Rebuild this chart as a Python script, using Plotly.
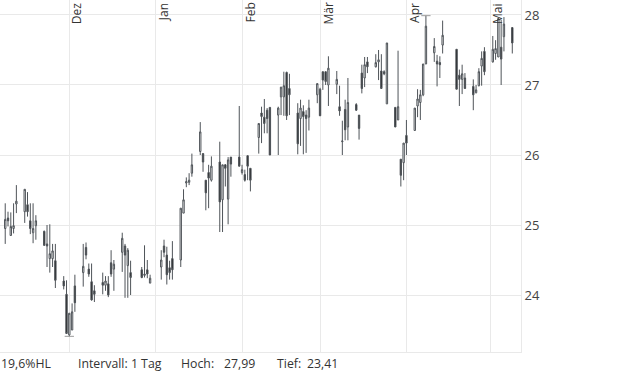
import pandas as pd
import plotly.graph_objects as go

# ---- data ----
dates = [
    "2021-11-08", "2021-11-09", "2021-11-10", "2021-11-11", "2021-11-12",
    "2021-11-15", "2021-11-16", "2021-11-17", "2021-11-18", "2021-11-19",
    "2021-11-22", "2021-11-23", "2021-11-24", "2021-11-25", "2021-11-26",
    "2021-11-29", "2021-11-30", "2021-12-01", "2021-12-02", "2021-12-03",
    "2021-12-06", "2021-12-07", "2021-12-08", "2021-12-09", "2021-12-10",
    "2021-12-13", "2021-12-14", "2021-12-15", "2021-12-16", "2021-12-17",
    "2021-12-20", "2021-12-21", "2021-12-22", "2021-12-23",
    "2021-12-27", "2021-12-28", "2021-12-29", "2021-12-30",
    "2022-01-03", "2022-01-04", "2022-01-05", "2022-01-06", "2022-01-07",
    "2022-01-10", "2022-01-11", "2022-01-12", "2022-01-13", "2022-01-14",
    "2022-01-17", "2022-01-18", "2022-01-19", "2022-01-20", "2022-01-21",
    "2022-01-24", "2022-01-25", "2022-01-26", "2022-01-27", "2022-01-28",
    "2022-01-31", "2022-02-01", "2022-02-02", "2022-02-03", "2022-02-04",
    "2022-02-07", "2022-02-08", "2022-02-09", "2022-02-10", "2022-02-11",
    "2022-02-14", "2022-02-15", "2022-02-16", "2022-02-17", "2022-02-18",
    "2022-02-21", "2022-02-22", "2022-02-23", "2022-02-24", "2022-02-25",
    "2022-02-28", "2022-03-01", "2022-03-02", "2022-03-03", "2022-03-04",
    "2022-03-07", "2022-03-08", "2022-03-09", "2022-03-10", "2022-03-11",
    "2022-03-14", "2022-03-15", "2022-03-16", "2022-03-17", "2022-03-18",
    "2022-03-21", "2022-03-22", "2022-03-23", "2022-03-24", "2022-03-25",
    "2022-03-28", "2022-03-29", "2022-03-30", "2022-03-31", "2022-04-01",
    "2022-04-04", "2022-04-05", "2022-04-06", "2022-04-07", "2022-04-08",
    "2022-04-11", "2022-04-12", "2022-04-13", "2022-04-14",
    "2022-04-19", "2022-04-20", "2022-04-21", "2022-04-22",
    "2022-04-25", "2022-04-26", "2022-04-27", "2022-04-28", "2022-04-29",
    "2022-05-02", "2022-05-03", "2022-05-04", "2022-05-05", "2022-05-06",
    "2022-05-09",
]

open_ = [
    24.95, 25.10, 24.85, 24.95, 25.30, 25.19, 25.29, 25.06, 24.89, 24.99,
    24.91, 24.73, 24.52, 24.52, 24.49, 24.20, 24.01, 23.43, 23.50, 24.13,
    24.32, 24.68, 24.37, 24.19, 24.06, 24.18, 24.14, 24.16, 24.46, 24.37,
    24.61, 24.70, 24.42, 24.32, 24.36, 24.28, 24.36, 24.17,
    24.40, 24.70, 24.57, 24.39, 24.52, 24.50, 25.17, 25.60, 25.61, 25.74,
    26.05, 26.02, 25.64, 25.75, 25.64, 25.90, 25.36, 25.86, 25.37, 25.97,
    25.97, 25.75, 25.72, 25.99, 25.81, 26.25, 26.60, 26.54, 26.64, 26.68,
    26.57, 26.83, 26.83, 27.18, 26.95, 26.60, 26.52, 26.62, 26.57, 26.54,
    26.86, 26.94, 27.19, 27.19, 27.00, 27.01, 26.69, 26.19, 26.65, 26.40,
    26.72, 26.57, 27.17, 27.10, 27.33, 27.26, 27.33, 27.20, 27.19, 26.73,
    26.68, 26.50, 25.94, 25.89, 26.28, 26.35, 26.70, 26.75, 26.86, 27.30,
    27.46, 27.34, 27.32, 27.57, 27.51, 27.14, 27.08, 27.10,
    26.98, 26.89, 26.99, 27.27, 27.48, 27.33, 27.45, 27.40, 27.54, 27.69,
    27.82,
]
high = [
    25.31, 25.19, 25.18, 25.31, 25.57, 25.51, 25.47, 25.31, 25.31, 25.14,
    24.92, 25.00, 25.01, 24.73, 24.73, 24.27, 24.21, 23.74, 23.88, 24.29,
    24.73, 24.75, 24.45, 24.45, 24.14, 24.32, 24.27, 24.27, 24.64, 24.50,
    24.89, 24.73, 24.67, 24.49, 24.40, 24.71, 24.50, 24.29,
    24.64, 24.79, 24.69, 24.49, 24.77, 25.24, 25.51, 25.68, 25.74, 26.02,
    26.47, 26.02, 25.64, 25.86, 25.98, 26.19, 25.86, 25.87, 25.97, 25.97,
    26.70, 25.86, 25.79, 25.99, 25.81, 26.45, 26.69, 26.80, 26.67, 26.68,
    26.69, 26.97, 27.19, 27.19, 27.16, 26.74, 26.79, 26.71, 26.64, 26.79,
    27.02, 26.96, 27.19, 27.19, 27.41, 27.20, 26.99, 26.49, 26.79, 27.10,
    26.74, 26.57, 27.29, 27.40, 27.40, 27.44, 27.50, 27.44, 27.21, 27.60,
    26.68, 27.49, 25.94, 26.17, 26.50, 26.67, 26.94, 26.93, 27.30, 27.99,
    27.67, 27.43, 27.41, 27.92, 27.51, 27.22, 27.29, 27.17,
    27.08, 27.00, 27.24, 27.48, 27.54, 27.70, 27.64, 27.96, 27.93, 27.97,
    27.82,
]
low = [
    24.73, 24.98, 24.85, 24.88, 25.17, 25.03, 25.12, 24.87, 24.74, 24.79,
    24.70, 24.40, 24.32, 24.40, 24.10, 24.08, 23.45, 23.41, 23.50, 23.76,
    24.12, 24.51, 24.26, 23.92, 23.90, 24.01, 24.06, 23.97, 24.26, 24.06,
    24.33, 23.96, 23.96, 24.00, 24.24, 24.25, 24.24, 24.17,
    24.22, 24.54, 24.15, 24.22, 24.22, 24.40, 25.17, 25.54, 25.57, 25.69,
    26.00, 25.76, 25.21, 25.24, 25.62, 24.90, 24.90, 25.55, 25.01, 25.69,
    25.84, 25.72, 25.62, 25.64, 25.48, 26.02, 26.17, 26.31, 26.31, 26.00,
    26.00, 26.57, 26.56, 26.50, 26.57, 26.01, 26.13, 26.01, 26.03, 26.35,
    26.74, 26.56, 26.93, 27.00, 26.70, 26.87, 26.56, 26.00, 26.21, 26.21,
    26.63, 26.22, 26.88, 26.97, 27.17, 27.25, 27.07, 26.95, 27.14, 26.73,
    26.40, 26.50, 25.55, 25.64, 26.00, 26.35, 26.54, 26.50, 26.84, 27.30,
    27.33, 26.98, 27.10, 27.45, 26.94, 26.70, 26.87, 26.95,
    26.64, 26.88, 26.98, 26.99, 27.14, 27.32, 27.36, 27.40, 27.00, 27.48,
    27.45,
]
close = [
    25.08, 25.06, 24.98, 24.99, 25.34, 25.51, 25.19, 24.95, 24.95, 25.06,
    24.71, 24.70, 24.59, 24.63, 24.21, 24.13, 23.45, 23.74, 23.76, 23.89,
    24.41, 24.57, 24.30, 23.93, 24.01, 24.14, 24.20, 24.00, 24.30, 24.44,
    24.81, 24.57, 24.64, 24.25, 24.25, 24.30, 24.30, 24.24,
    24.50, 24.61, 24.29, 24.32, 24.36, 25.24, 25.36, 25.62, 25.64, 25.86,
    26.33, 25.90, 25.46, 25.67, 25.84, 25.33, 25.86, 25.81, 25.93, 25.87,
    25.84, 25.79, 25.64, 25.84, 25.64, 26.45, 26.55, 26.45, 26.52, 26.00,
    26.67, 26.97, 26.99, 26.56, 26.86, 26.16, 26.67, 26.55, 26.52, 26.67,
    27.02, 26.56, 27.07, 27.05, 27.24, 27.08, 26.63, 26.20, 26.36, 26.75,
    26.64, 26.38, 26.95, 27.29, 27.26, 27.32, 27.36, 26.95, 27.16, 27.60,
    26.40, 26.69, 25.71, 26.17, 26.17, 26.67, 26.80, 26.86, 27.30, 27.84,
    27.55, 27.30, 27.29, 27.71, 26.94, 27.08, 27.16, 26.95,
    26.86, 26.93, 27.19, 27.38, 27.19, 27.51, 27.52, 27.95, 27.37, 27.87,
    27.60,
]

month_starts = ["2021-12-01", "2022-01-01", "2022-02-01", "2022-03-01", "2022-04-01", "2022-05-01"]
month_labels = ["Dez", "Jan", "Feb", "Mär", "Apr", "Mai"]
y_ticks = [24, 25, 26, 27, 28]
x_range = ["2021-11-06 03:00", "2022-05-12 03:00"]
y_range = [23.186, 28.214]
interval_label = "Intervall: 1 Tag"

# ---- figure ----
LINE = "#4f5459"
GRID = "#e9e9e9"
TEXT = "#333333"
FONT = "Open Sans"
PLOT_W = 521

fig = go.Figure()
fig.add_trace(go.Candlestick(
    x=pd.to_datetime(dates), open=open_, high=high, low=low, close=close,
    increasing=dict(line=dict(color=LINE, width=1), fillcolor="#ffffff"),
    decreasing=dict(line=dict(color=LINE, width=1), fillcolor="#1e1e1e"),
    whiskerwidth=0, showlegend=False, hoverinfo="skip",
))

# high / low marker lines
hi = max(high)
lo = min(low)
d_hi = pd.Timestamp(dates[high.index(hi)])
d_lo = pd.Timestamp(dates[low.index(lo)])
half = pd.Timedelta(hours=40)
for d, v in ((d_hi, hi), (d_lo, lo)):
    fig.add_shape(type="line", xref="x", yref="y", x0=d - half, x1=d + half,
                  y0=v, y1=v, line=dict(color="#9a9a9a", width=1))

# month labels (rotated, inside top)
for d, lab in zip(month_starts, month_labels):
    fig.add_annotation(x=d, y=1, xref="x", yref="paper", text=lab,
                       textangle=-90, showarrow=False, xanchor="left",
                       yanchor="top", xshift=-3, yshift=-1,
                       font=dict(family=FONT, size=12, color=TEXT))

# footer
pct = (hi - lo) / lo * 100
fmt = lambda v, n=2: f"{v:.{n}f}".replace(".", ",")
footer = [(0, f"{fmt(pct, 1)}%HL", "left"), (77, interval_label, "left"),
          (180, "Hoch:", "left"), (256, fmt(hi), "right"),
          (276, "Tief:", "left"), (339, fmt(lo), "right")]
for px, txt, anc in footer:
    fig.add_annotation(x=px / PLOT_W, y=0, xref="paper", yref="paper", text=txt,
                       showarrow=False, xanchor=anc, yanchor="top",
                       yshift=-1, xshift=-1 if anc == "left" else 1,
                       font=dict(family=FONT, size=12.3, color=TEXT))

fig.update_layout(
    width=620, height=372, margin=dict(l=0, r=620 - PLOT_W, t=0, b=20),
    paper_bgcolor="white", plot_bgcolor="white",
    font=dict(family=FONT, color=TEXT),
    xaxis=dict(range=[pd.Timestamp(x_range[0]), pd.Timestamp(x_range[1])],
               rangeslider=dict(visible=False), showticklabels=False,
               tickvals=pd.to_datetime(month_starts), showgrid=True, gridcolor=GRID,
               showline=True, linecolor=GRID, zeroline=False),
    yaxis=dict(range=y_range, side="right", tickvals=y_ticks,
               ticktext=[str(v) for v in y_ticks], showgrid=True, gridcolor=GRID,
               showline=True, linecolor=GRID, zeroline=False,
               tickfont=dict(family=FONT, size=13, color="#444444")),
)

fig.write_html("out.html")
